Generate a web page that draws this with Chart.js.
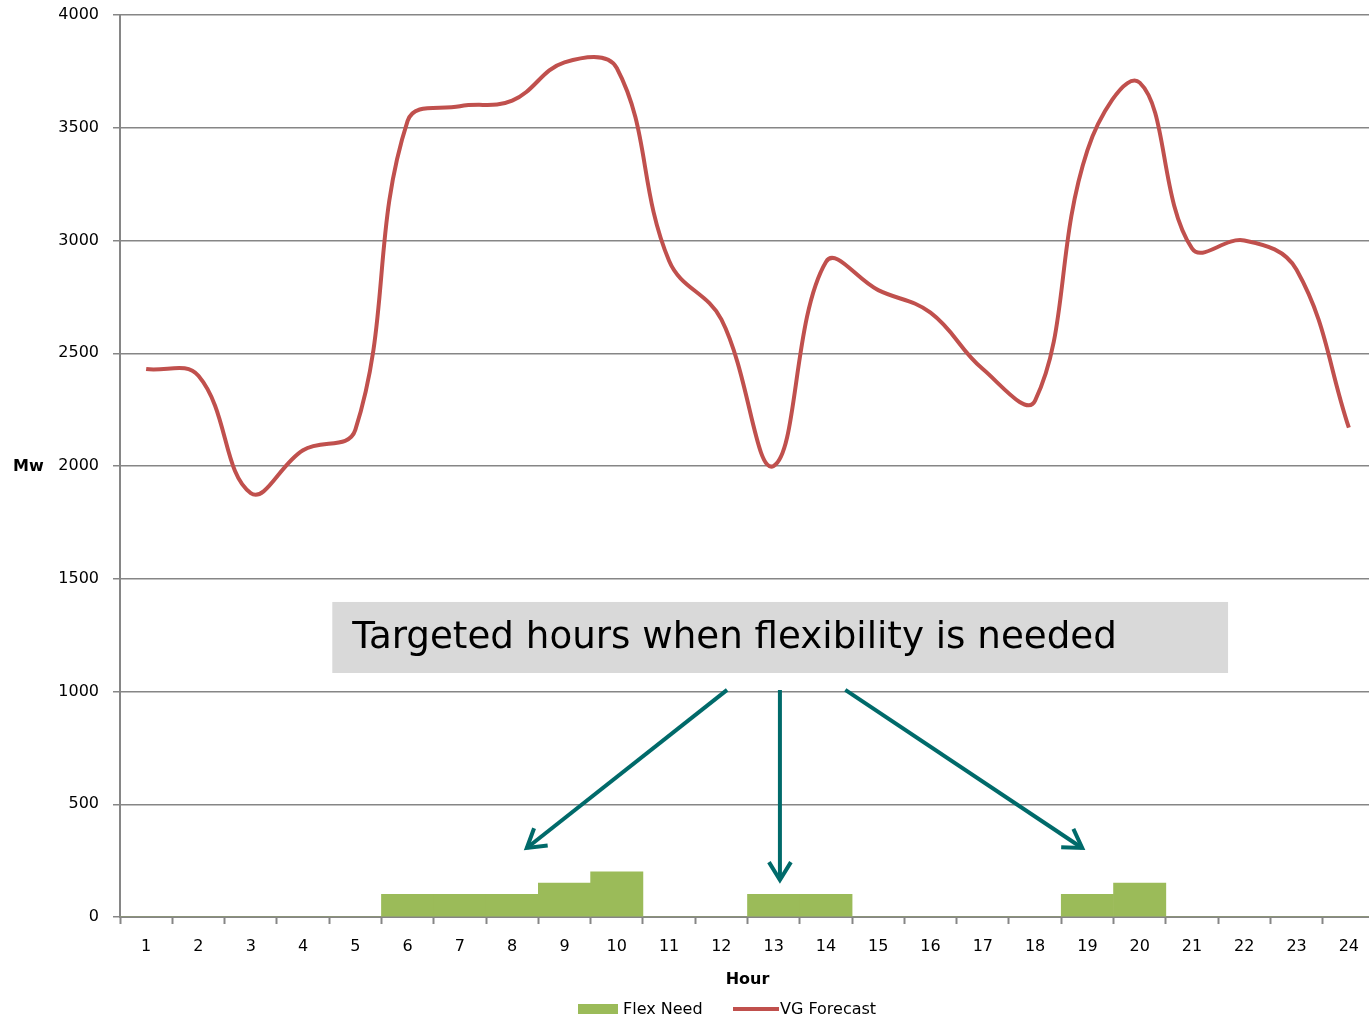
<!DOCTYPE html>
<html>
<head>
<meta charset="utf-8">
<script src="https://cdn.jsdelivr.net/npm/chart.js@4"></script>
<style>
  html, body { margin: 0; padding: 0; background: #fff; overflow: hidden; }
  #wrap { width: 1369px; height: 1019px; overflow: hidden; }
</style>
</head>
<body>
<div id="wrap"><canvas id="grafico" width="1375" height="1019"></canvas></div>
<script>
const hours = ['1','2','3','4','5','6','7','8','9','10','11','12','13','14','15','16','17','18','19','20','21','22','23','24'];
const flexNeed = [0,0,0,0,0,100,100,100,150,200,0,0,100,100,0,0,0,0,100,150,0,0,0,0];
const vgForecast = [2430,2400,1880,2070,2160,3530,3595,3620,3790,3765,2910,2650,2000,2905,2780,2680,2430,2290,3400,3700,2965,3000,2870,2170];
const yTicks = [0,500,1000,1500,2000,2500,3000,3500,4000];
const noteText = 'Targeted hours when flexibility is needed';

const fonte = 'Tahoma, "DejaVu Sans", sans-serif';

// caixa cinza e setas desenhadas sobre o gráfico
const anotacao = {
    id: 'anotacao',
    afterDraw(chart) {
        const ctx = chart.ctx;
        const x = chart.scales.x, y = chart.scales.y;
        ctx.save();
        // caixa
        const bx1 = x.getPixelForValue(3.56), bx2 = x.getPixelForValue(20.69);
        const by1 = y.getPixelForValue(1397), by2 = y.getPixelForValue(1082);
        ctx.fillStyle = '#D9D9D9';
        ctx.fillRect(bx1, by1, bx2 - bx1, by2 - by1);
        let size = 38;
        ctx.font = size + 'px ' + fonte;
        const w = ctx.measureText(noteText).width;
        size = size * 765 / w;
        ctx.font = size + 'px ' + fonte;
        ctx.fillStyle = '#000';
        ctx.textBaseline = 'middle';
        ctx.fillText(noteText, bx1 + 20, (by1 + by2) / 2 + 1);

        // setas
        const setas = [
            [11.11, 1007, 7.28, 306],
            [12.12, 1007, 12.12, 164],
            [13.37, 1007, 17.9, 306]
        ];
        ctx.strokeStyle = '#006A6A';
        ctx.lineWidth = 4;
        ctx.lineCap = 'butt';
        ctx.lineJoin = 'miter';
        setas.forEach(s => {
            const x1 = x.getPixelForValue(s[0]), y1 = y.getPixelForValue(s[1]);
            const x2 = x.getPixelForValue(s[2]), y2 = y.getPixelForValue(s[3]);
            ctx.beginPath();
            ctx.moveTo(x1, y1);
            ctx.lineTo(x2, y2);
            ctx.stroke();
            const ang = Math.atan2(y2 - y1, x2 - x1);
            const len = 21;
            ctx.beginPath();
            ctx.moveTo(x2 - len * Math.cos(ang - 0.55), y2 - len * Math.sin(ang - 0.55));
            ctx.lineTo(x2, y2);
            ctx.lineTo(x2 - len * Math.cos(ang + 0.55), y2 - len * Math.sin(ang + 0.55));
            ctx.stroke();
        });

        // rótulo Mw
        ctx.font = 'bold 16px ' + fonte;
        ctx.fillStyle = '#000';
        ctx.textAlign = 'left';
        ctx.textBaseline = 'middle';
        ctx.fillText('Mw', 13, y.getPixelForValue(2000) + 1);

        // legenda
        const ly = 1009;
        ctx.fillStyle = '#9BBB59';
        ctx.fillRect(578, ly - 5, 40, 10);
        ctx.font = '16px ' + fonte;
        ctx.fillStyle = '#000';
        ctx.fillText('Flex Need', 623, ly + 1);
        ctx.strokeStyle = '#C0504D';
        ctx.lineWidth = 4;
        ctx.beginPath();
        ctx.moveTo(733, ly);
        ctx.lineTo(779, ly);
        ctx.stroke();
        ctx.fillText('VG Forecast', 780, ly + 1);
        ctx.restore();
    }
};

function criarGrafico() {
    const ctx = document.getElementById('grafico').getContext('2d');
    new Chart(ctx, {
        type: 'bar',
        data: {
            labels: hours,
            datasets: [
                {
                    type: 'line',
                    label: 'VG Forecast',
                    data: vgForecast,
                    borderColor: '#C0504D',
                    borderWidth: 4,
                    pointRadius: 0,
                    tension: 0.4,
                    fill: false,
                    order: 0
                },
                {
                    label: 'Flex Need',
                    data: flexNeed,
                    backgroundColor: '#9BBB59',
                    barPercentage: 1,
                    categoryPercentage: 1,
                    order: 1
                }
            ]
        },
        options: {
            responsive: false,
            animation: false,
            layout: { padding: { top: 15, right: 0, bottom: 30, left: 0 } },
            plugins: {
                legend: { display: false },
                tooltip: { enabled: false }
            },
            scales: {
                x: {
                    offset: true,
                    grid: {
                        display: true,
                        offset: true,
                        drawOnChartArea: false,
                        drawTicks: true,
                        tickLength: 7,
                        tickColor: '#868686',
                        tickWidth: 2
                    },
                    border: { color: '#868686', width: 2 },
                    ticks: { color: '#000', font: { family: fonte, size: 16 }, padding: 13, maxRotation: 0, autoSkip: false },
                    title: { display: true, text: 'Hour', color: '#000', font: { family: fonte, size: 16, weight: 'bold' }, padding: { top: 4, bottom: 0 } },
                    afterFit(scale) {
                        scale.height = 72;
                        scale.paddingLeft = 0;
                        scale.paddingRight = 0;
                    }
                },
                y: {
                    min: 0,
                    max: 4000,
                    afterBuildTicks(scale) { scale.ticks = yTicks.map(v => ({ value: v })); },
                    grid: {
                        color: '#868686',
                        lineWidth: 1.5,
                        tickLength: 7,
                        tickColor: '#868686'
                    },
                    border: { color: '#868686', width: 2 },
                    ticks: {
                        color: '#000',
                        font: { family: fonte, size: 16 },
                        padding: 14,
                        callback: function (value) { return String(value); }
                    },
                    afterFit(scale) {
                        scale.width = 120;
                        scale.paddingTop = 0;
                        scale.paddingBottom = 0;
                    }
                }
            }
        },
        plugins: [anotacao]
    });
}

window.addEventListener('load', criarGrafico);
</script>
</body>
</html>
